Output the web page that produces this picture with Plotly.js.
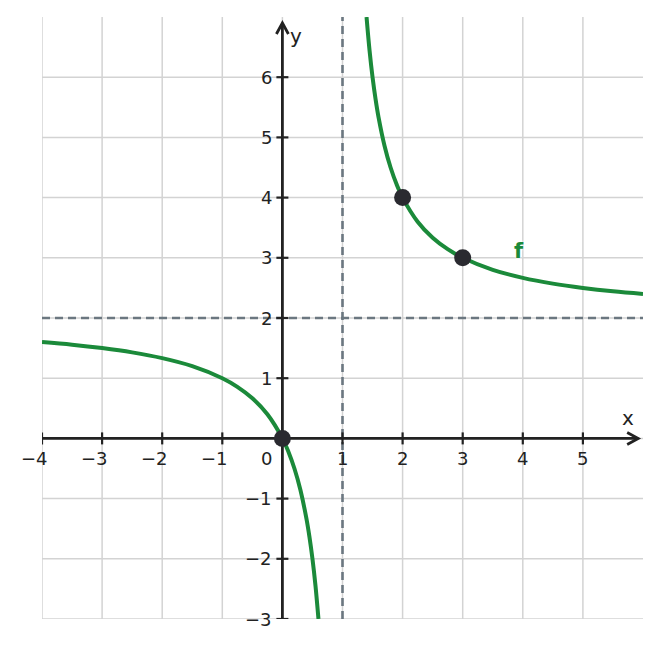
<!DOCTYPE html>
<html>
<head>
<meta charset="utf-8">
<script src="https://cdn.plot.ly/plotly-3.0.1.min.js"></script>
<style>html,body{margin:0;padding:0;background:#fff;}#chart{width:661px;height:648px;}</style>
</head>
<body>
<div id="chart"></div>
<script>
// f(x) = 2x/(x-1)
const leftX = [-4, -3.5, -3, -2.5, -2, -1.5, -1, -0.75, -0.5, -0.25, 0, 0.1, 0.2, 0.3, 0.4, 0.45, 0.5, 0.55, 0.6];
const leftY = [1.6, 1.556, 1.5, 1.429, 1.333, 1.2, 1.0, 0.857, 0.667, 0.4, 0, -0.222, -0.5, -0.857, -1.333, -1.636, -2.0, -2.444, -3.0];
const rightX = [1.4, 1.45, 1.5, 1.55, 1.6, 1.7, 1.8, 1.9, 2, 2.25, 2.5, 2.75, 3, 3.5, 4, 4.5, 5, 5.5, 6];
const rightY = [7.0, 6.444, 6.0, 5.636, 5.333, 4.857, 4.5, 4.222, 4.0, 3.6, 3.333, 3.143, 3.0, 2.8, 2.667, 2.571, 2.5, 2.444, 2.4];
const pointX = [0, 2, 3];
const pointY = [0, 4, 3];
const xTicks = [-4, -3, -2, -1, 0, 1, 2, 3, 4, 5];
const xTickLabels = ['−4', '−3', '−2', '−1', '0', '1', '2', '3', '4', '5'];
const yTicks = [-3, -2, -1, 1, 2, 3, 4, 5, 6];
const yTickLabels = ['−3', '−2', '−1', '1', '2', '3', '4', '5', '6'];
const gridX = [-4, -3, -2, -1, 0, 1, 2, 3, 4, 5];
const gridY = [-3, -2, -1, 0, 1, 2, 3, 4, 5, 6];
const asymptoteX = 1;
const asymptoteY = 2;
const curveLabel = 'f';
const curveLabelPos = [3.94, 3.12];

const green = '#1b8a3a';
const dark = '#222222';
const slate = '#6b7780';
const gridColor = '#d3d3d3';
const font = 'DejaVu Sans, sans-serif';
const xRange = [-4, 6], yRange = [-3, 7];
const xAxisEnd = 5.92, yAxisEnd = 6.9;

const traces = [
  {x: leftX, y: leftY, mode: 'lines', line: {color: green, width: 4, shape: 'spline'}, hoverinfo: 'skip'},
  {x: rightX, y: rightY, mode: 'lines', line: {color: green, width: 4, shape: 'spline'}, hoverinfo: 'skip'},
  {x: pointX, y: pointY, mode: 'markers', marker: {color: '#2a2a30', size: 17}, hoverinfo: 'skip'}
];

const shapes = [];
gridX.forEach(g => shapes.push({type: 'line', layer: 'below', x0: g, x1: g, y0: yRange[0], y1: yRange[1], line: {color: gridColor, width: 1.5}}));
gridY.forEach(g => shapes.push({type: 'line', layer: 'below', x0: xRange[0], x1: xRange[1], y0: g, y1: g, line: {color: gridColor, width: 1.5}}));
shapes.push(
  {type: 'line', layer: 'between', x0: asymptoteX, x1: asymptoteX, y0: yRange[0], y1: yRange[1], line: {color: slate, width: 2.6, dash: '8px,5px'}},
  {type: 'line', layer: 'between', x0: xRange[0], x1: xRange[1], y0: asymptoteY, y1: asymptoteY, line: {color: slate, width: 2.6, dash: '8px,5px'}},
  {type: 'line', layer: 'between', x0: xRange[0], x1: xAxisEnd, y0: 0, y1: 0, line: {color: dark, width: 2.8}},
  {type: 'line', layer: 'between', x0: 0, x1: 0, y0: yRange[0], y1: yAxisEnd, line: {color: dark, width: 2.8}},
  {type: 'path', layer: 'between', xsizemode: 'pixel', ysizemode: 'pixel', xanchor: xAxisEnd, yanchor: 0,
   path: 'M-11,6 L0,0 L-11,-6', line: {color: dark, width: 2.8}},
  {type: 'path', layer: 'between', xsizemode: 'pixel', ysizemode: 'pixel', xanchor: 0, yanchor: yAxisEnd,
   path: 'M-6,-11 L0,0 L6,-11', line: {color: dark, width: 2.8}}
);
xTicks.forEach(t => { if (t !== 0) shapes.push({type: 'line', layer: 'between', ysizemode: 'pixel', yanchor: 0, x0: t, x1: t, y0: -6, y1: 6, line: {color: dark, width: 2.2}}); });
yTicks.forEach(t => shapes.push({type: 'line', layer: 'between', xsizemode: 'pixel', xanchor: 0, y0: t, y1: t, x0: -6, x1: 6, line: {color: dark, width: 2.2}}));

const annotations = [];
xTicks.forEach((t, i) => {
  const neg = t < 0;
  annotations.push({x: t, y: 0, text: xTickLabels[i], showarrow: false, xanchor: 'center', yanchor: 'middle',
    xshift: t === 0 ? -16 : (neg ? -7.5 : 0), yshift: -20, font: {family: font, size: 18, color: dark}});
});
yTicks.forEach((t, i) => {
  annotations.push({x: 0, y: t, text: yTickLabels[i], showarrow: false, xanchor: 'right', yanchor: 'middle',
    xshift: -8, yshift: 0, font: {family: font, size: 18, color: dark}});
});
annotations.push({x: xRange[1], y: 0, text: 'x', showarrow: false, xanchor: 'center', yanchor: 'middle', xshift: -15, yshift: 20, font: {family: font, size: 20, color: dark}});
annotations.push({x: 0, y: yRange[1], text: 'y', showarrow: false, xanchor: 'center', yanchor: 'middle', xshift: 14, yshift: -19, font: {family: font, size: 20, color: dark}});
annotations.push({x: curveLabelPos[0], y: curveLabelPos[1], text: '<b>' + curveLabel + '</b>', showarrow: false, xanchor: 'center', yanchor: 'middle',
  font: {family: font, size: 21, color: green, shadow: '0 0 3px #fff, 0 0 3px #fff'}});

const layout = {
  width: 661, height: 648,
  margin: {l: 42, r: 18, t: 17, b: 29, pad: 0},
  paper_bgcolor: '#fff', plot_bgcolor: '#fff',
  showlegend: false,
  xaxis: {range: xRange, showgrid: false, zeroline: false, showticklabels: false, ticks: '', showline: false, fixedrange: true},
  yaxis: {range: yRange, showgrid: false, zeroline: false, showticklabels: false, ticks: '', showline: false, fixedrange: true},
  shapes: shapes,
  annotations: annotations
};
Plotly.newPlot('chart', traces, layout, {displayModeBar: false, staticPlot: true});
</script>
</body>
</html>
